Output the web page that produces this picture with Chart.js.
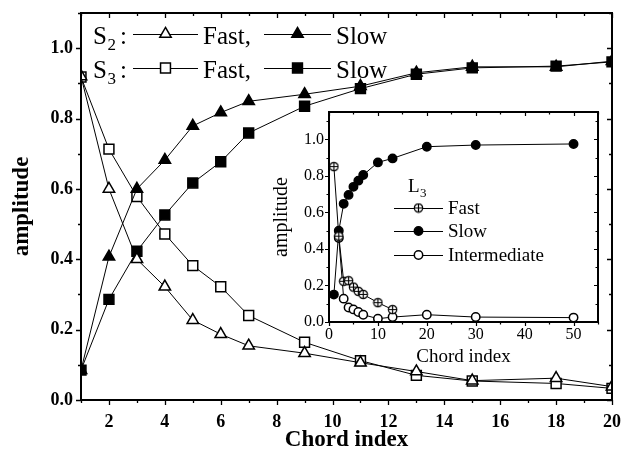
<!DOCTYPE html>
<html>
<head>
<meta charset="utf-8">
<script src="https://cdn.jsdelivr.net/npm/chart.js@4.4.0/dist/chart.umd.min.js"></script>
<style>
  html, body { margin: 0; padding: 0; background: #fff; }
  #wrap { position: relative; width: 623px; height: 455px; overflow: hidden; }
  #main { position: absolute; left: 0; top: 0; }
  #inset { position: absolute; left: 270px; top: 100px; }
</style>
</head>
<body>
<div id="wrap">
  <canvas id="main" width="623" height="455"></canvas>
  <canvas id="inset" width="340" height="280"></canvas>
</div>
<script>
// ---- main panel: S2 / S3 amplitudes versus chord index ----
const chordIndex = [1, 2, 3, 4, 5, 6, 7, 9, 11, 13, 15, 18, 20];
const s2Fast = [0.92, 0.60, 0.40, 0.322, 0.227, 0.187, 0.154, 0.133, 0.106, 0.081, 0.055, 0.062, 0.038];
const s2Slow = [0.085, 0.407, 0.60, 0.682, 0.779, 0.817, 0.849, 0.869, 0.892, 0.93, 0.947, 0.947, 0.963];
const s3Fast = [0.918, 0.713, 0.578, 0.472, 0.382, 0.322, 0.24, 0.164, 0.112, 0.07, 0.054, 0.047, 0.033];
const s3Slow = [0.085, 0.286, 0.423, 0.526, 0.617, 0.677, 0.759, 0.835, 0.885, 0.926, 0.944, 0.949, 0.961];
const mainXTicks = [2, 4, 6, 8, 10, 12, 14, 16, 18, 20];
const mainYTicks = [0.0, 0.2, 0.4, 0.6, 0.8, 1.0];

// ---- inset: L3 amplitudes ----
const l3Chord = [1, 2, 3, 4, 5, 6, 7, 10, 13, 20, 30, 50];
const l3Fast = [0.851, 0.47, 0.223, 0.226, 0.191, 0.168, 0.151, 0.106, 0.068, null, null, null];
const l3Slow = [0.15, 0.50, 0.647, 0.696, 0.74, 0.774, 0.805, 0.874, 0.896, 0.96, 0.969, 0.975];
const l3Inter = [null, 0.46, 0.128, 0.079, 0.069, 0.055, 0.04, 0.018, 0.027, 0.04, 0.027, 0.024];
const insetXTicks = [0, 10, 20, 30, 40, 50];
const insetYTicks = [0.0, 0.2, 0.4, 0.6, 0.8, 1.0];

const SERIF = '"Liberation Serif", "Times New Roman", serif';

function pairs(xs, ys) {
  const out = [];
  xs.forEach((x, i) => { if (ys[i] !== null) out.push({ x: x, y: ys[i] }); });
  return out;
}

// circle with a plus sign, used for the "Fast" L3 markers
function circlePlus(r) {
  const c = document.createElement('canvas');
  const s = 11;
  c.width = s; c.height = s;
  const g = c.getContext('2d');
  const m = s / 2;
  g.fillStyle = '#fff';
  g.strokeStyle = '#000';
  g.lineWidth = 1.2;
  g.beginPath(); g.arc(m, m, r, 0, Math.PI * 2); g.fill(); g.stroke();
  g.beginPath();
  g.moveTo(m - r, m); g.lineTo(m + r, m);
  g.moveTo(m, m - r); g.lineTo(m, m + r);
  g.stroke();
  return c;
}
const plusMarker = circlePlus(4.2);

function series(data, style, radius, filled) {
  return {
    data: data,
    clip: 0,
    borderColor: '#000',
    borderWidth: 1,
    pointStyle: style,
    pointRadius: radius,
    pointHoverRadius: radius,
    pointBackgroundColor: filled ? '#000' : '#fff',
    pointBorderColor: '#000',
    pointBorderWidth: 1.5,
    tension: 0,
    fill: false
  };
}

// frame around the plot area with major/minor ticks on all four sides
const frameTicks = {
  id: 'frameTicks',
  afterDraw(chart, args, o) {
    const { ctx, chartArea: a, scales: { x, y } } = chart;
    ctx.save();
    ctx.strokeStyle = '#000';
    ctx.lineWidth = o.tickWidth;
    ctx.beginPath();
    const eps = 1e-9;
    for (let v = o.xMinor0; v <= x.max + eps; v += o.xMinorStep) {
      const major = Math.abs(v / o.xMajorStep - Math.round(v / o.xMajorStep)) < 1e-6;
      const len = major ? o.major : o.minor;
      const px = Math.round(x.getPixelForValue(v)) + 0.5;
      ctx.moveTo(px, a.bottom); ctx.lineTo(px, a.bottom + len);
      ctx.moveTo(px, a.top); ctx.lineTo(px, a.top + len);
    }
    for (let v = o.yMinor0; v <= y.max + eps; v += o.yMinorStep) {
      const major = Math.abs(v / o.yMajorStep - Math.round(v / o.yMajorStep)) < 1e-6;
      const len = major ? o.major : o.minor;
      const py = Math.round(y.getPixelForValue(v)) + 0.5;
      ctx.moveTo(a.left, py); ctx.lineTo(a.left - len, py);
      ctx.moveTo(a.right, py); ctx.lineTo(a.right - len, py);
    }
    ctx.stroke();
    ctx.lineWidth = o.frameWidth;
    ctx.strokeRect(a.left, a.top, a.right - a.left, a.bottom - a.top);
    ctx.restore();
  }
};

// opaque plot background (the inset hides what lies beneath it)
const plotFill = {
  id: 'plotFill',
  beforeDraw(chart, args, o) {
    if (!o.color) return;
    const { ctx, chartArea: a } = chart;
    ctx.save();
    ctx.fillStyle = o.color;
    ctx.fillRect(a.left - 1, a.top - 1, a.right - a.left + 2, a.bottom - a.top + 2);
    ctx.restore();
  }
};

function drawMarker(ctx, ds, x, y) {
  ctx.save();
  ctx.fillStyle = ds.pointBackgroundColor;
  ctx.strokeStyle = ds.pointBorderColor;
  ctx.lineWidth = ds.pointBorderWidth;
  Chart.helpers.drawPoint(ctx, {
    pointStyle: ds.pointStyle, radius: ds.pointRadius, rotation: 0, borderWidth: ds.pointBorderWidth
  }, x, y);
  ctx.restore();
}

function legendSample(ctx, ds, x0, x1, y) {
  ctx.save();
  ctx.strokeStyle = '#000';
  ctx.lineWidth = 1;
  ctx.beginPath(); ctx.moveTo(x0, y + 0.5); ctx.lineTo(x1, y + 0.5); ctx.stroke();
  ctx.restore();
  drawMarker(ctx, ds, (x0 + x1) / 2, y);
}

function subscripted(ctx, base, sub, x, y, size, subSize) {
  ctx.font = size + 'px ' + SERIF;
  ctx.fillText(base, x, y);
  const w = ctx.measureText(base).width;
  ctx.font = subSize + 'px ' + SERIF;
  ctx.fillText(sub, x + w + 0.5, y + size * 0.25);
  return x + w + 0.5 + ctx.measureText(sub).width;
}

// S2 / S3 key in the upper left of the main panel
const mainKey = {
  id: 'mainKey',
  afterDraw(chart) {
    const ctx = chart.ctx;
    const ds = chart.data.datasets;
    const rows = [
      { sub: '2', fast: ds[0], slow: ds[1], y: 34 },
      { sub: '3', fast: ds[2], slow: ds[3], y: 68 }
    ];
    ctx.save();
    ctx.fillStyle = '#000';
    ctx.textBaseline = 'alphabetic';
    rows.forEach(r => {
      const base = r.y + 10;
      subscripted(ctx, 'S', r.sub, 93, base, 25, 17);
      ctx.font = '25px ' + SERIF;
      ctx.fillText(':', 120, base);
      legendSample(ctx, r.fast, 133, 198, r.y);
      ctx.font = '25px ' + SERIF;
      ctx.fillText('Fast,', 203, base);
      legendSample(ctx, r.slow, 264, 331, r.y);
      ctx.font = '25px ' + SERIF;
      ctx.fillText('Slow', 336, base);
    });
    ctx.restore();
  }
};

// L3 key inside the inset
const insetKey = {
  id: 'insetKey',
  afterDraw(chart) {
    const ctx = chart.ctx;
    const ds = chart.data.datasets;
    const names = ['Fast', 'Slow', 'Intermediate'];
    const ys = [108, 131, 155];
    ctx.save();
    ctx.fillStyle = '#000';
    ctx.textBaseline = 'alphabetic';
    subscripted(ctx, 'L', '3', 138, 92, 19, 13);
    names.forEach((n, i) => {
      legendSample(ctx, ds[i], 124, 173, ys[i]);
      ctx.font = '19px ' + SERIF;
      ctx.fillStyle = '#000';
      ctx.fillText(n, 178, ys[i] + 6);
    });
    ctx.restore();
  }
};

function fixedTicks(list) {
  return s => { s.ticks = list.map(v => ({ value: v })); };
}

new Chart(document.getElementById('main'), {
  type: 'line',
  data: {
    datasets: [
      series(pairs(chordIndex, s2Fast), 'triangle', 6.6, false),
      series(pairs(chordIndex, s2Slow), 'triangle', 6.6, true),
      series(pairs(chordIndex, s3Fast), 'rect', 7, false),
      series(pairs(chordIndex, s3Slow), 'rect', 7, true)
    ]
  },
  options: {
    responsive: false,
    animation: false,
    devicePixelRatio: 1,
    layout: { padding: { top: 13, right: 11, left: 0, bottom: 0 } },
    plugins: {
      legend: { display: false },
      tooltip: { enabled: false },
      frameTicks: { xMinor0: 1, xMinorStep: 1, xMajorStep: 2, yMinor0: 0, yMinorStep: 0.1, yMajorStep: 0.2,
                    major: 5, minor: 3, tickWidth: 1.3, frameWidth: 2 },
      plotFill: { color: null }
    },
    scales: {
      x: {
        type: 'linear', min: 1, max: 20,
        afterBuildTicks: fixedTicks(mainXTicks),
        afterFit: s => { s.height = 55; s.paddingLeft = 0; s.paddingRight = 0; },
        grid: { display: false, drawTicks: false },
        border: { display: false },
        ticks: { color: '#000', padding: 12, font: { family: SERIF, size: 18, weight: 'bold' }, maxRotation: 0 },
        title: { display: true, text: 'Chord index', color: '#000',
                 font: { family: SERIF, size: 23, weight: 'bold' }, padding: { top: 0, bottom: 1 } }
      },
      y: {
        type: 'linear', min: 0, max: 1.1,
        afterBuildTicks: fixedTicks(mainYTicks),
        afterFit: s => { s.width = 81; s.paddingTop = 0; s.paddingBottom = 0; },
        grid: { display: false, drawTicks: false },
        border: { display: false },
        ticks: { color: '#000', padding: 8, font: { family: SERIF, size: 18, weight: 'bold' },
                 callback: v => v.toFixed(1) },
        title: { display: true, text: 'amplitude', color: '#000',
                 font: { family: SERIF, size: 23, weight: 'bold' }, padding: { top: 8, bottom: 0 } }
      }
    }
  },
  plugins: [frameTicks, mainKey]
});

new Chart(document.getElementById('inset'), {
  type: 'line',
  data: {
    datasets: [
      series(pairs(l3Chord, l3Fast), plusMarker, 4.2, false),
      series(pairs(l3Chord, l3Slow), 'circle', 4.2, true),
      series(pairs(l3Chord, l3Inter), 'circle', 4.2, false)
    ]
  },
  options: {
    responsive: false,
    animation: false,
    devicePixelRatio: 1,
    layout: { padding: { top: 12, right: 12, left: 0, bottom: 0 } },
    plugins: {
      legend: { display: false },
      tooltip: { enabled: false },
      frameTicks: { xMinor0: 0, xMinorStep: 5, xMajorStep: 10, yMinor0: 0, yMinorStep: 0.1, yMajorStep: 0.2,
                    major: 4, minor: 2.5, tickWidth: 1.2, frameWidth: 2 },
      plotFill: { color: '#fff' }
    },
    scales: {
      x: {
        type: 'linear', min: 0, max: 55,
        afterBuildTicks: fixedTicks(insetXTicks),
        afterFit: s => { s.height = 58; s.paddingLeft = 0; s.paddingRight = 0; },
        grid: { display: false, drawTicks: false },
        border: { display: false },
        ticks: { color: '#000', padding: 3, font: { family: SERIF, size: 16 }, maxRotation: 0 },
        title: { display: true, text: 'Chord index', color: '#000',
                 font: { family: SERIF, size: 19 }, padding: { top: 0, bottom: 12 } }
      },
      y: {
        type: 'linear', min: 0, max: 1.15,
        afterBuildTicks: fixedTicks(insetYTicks),
        afterFit: s => { s.width = 59; s.paddingTop = 0; s.paddingBottom = 0; },
        grid: { display: false, drawTicks: false },
        border: { display: false },
        ticks: { color: '#000', padding: 5, font: { family: SERIF, size: 16 },
                 callback: v => v.toFixed(1) },
        title: { display: true, text: 'amplitude', color: '#000',
                 font: { family: SERIF, size: 20 }, padding: { top: 0, bottom: 0 } }
      }
    }
  },
  plugins: [plotFill, frameTicks, insetKey]
});
</script>
</body>
</html>
